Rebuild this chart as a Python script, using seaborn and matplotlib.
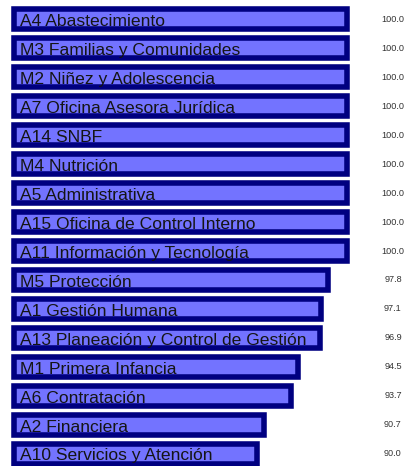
import matplotlib
matplotlib.use("Agg")
import matplotlib.pyplot as plt
import numpy as np
import seaborn as sns

# Cumplimiento por área (%)
categories = [
    "A4 Abastecimiento",
    "M3 Familias y Comunidades",
    "M2 Niñez y Adolescencia",
    "A7 Oficina Asesora Jurídica",
    "A14 SNBF",
    "M4 Nutrición",
    "A5 Administrativa",
    "A15 Oficina de Control Interno",
    "A11 Información y Tecnología",
    "M5 Protección",
    "A1 Gestión Humana",
    "A13 Planeación y Control de Gestión",
    "M1 Primera Infancia",
    "A6 Contratación",
    "A2 Financiera",
    "A10 Servicios y Atención",
]
values = [100.0, 100.0, 100.0, 100.0, 100.0, 100.0, 100.0, 100.0, 100.0,
          97.8, 97.1, 96.9, 94.5, 93.7, 90.7, 90.0]

# bars start at this value instead of zero (truncated axis)
BASE = 63.0

FILL = "#7373ff"
EDGE = "#000080"


def main():
    sns.set_theme(style="white")
    plt.rcParams["font.family"] = ["Liberation Sans", "DejaVu Sans"]

    fig = plt.figure(figsize=(4.06, 4.66), dpi=100)
    ax = fig.add_axes([0, 0, 1, 1])

    shifted = np.array(values) - BASE
    sns.barplot(
        x=shifted,
        y=categories,
        orient="h",
        color=FILL,
        saturation=1,
        edgecolor=EDGE,
        linewidth=4,
        width=0.7,
        ax=ax,
    )

    ax.set_xlim(-14.5 / 9.0, (406 - 14.5) / 9.0)
    ax.set_ylim(15.42, -0.664)
    ax.axis("off")

    for i, (cat, val) in enumerate(zip(categories, values)):
        ax.text(20 / 406, i + 0.23, cat, transform=ax.get_yaxis_transform(),
                ha="left", va="baseline", fontsize=12.6, color="#141414")
        ax.text(393 / 406, i, f"{val:.1f}", transform=ax.get_yaxis_transform(),
                ha="center", va="center", fontsize=6.6, color="#333333")

    fig.savefig("out.png", dpi=100)


if __name__ == "__main__":
    main()
